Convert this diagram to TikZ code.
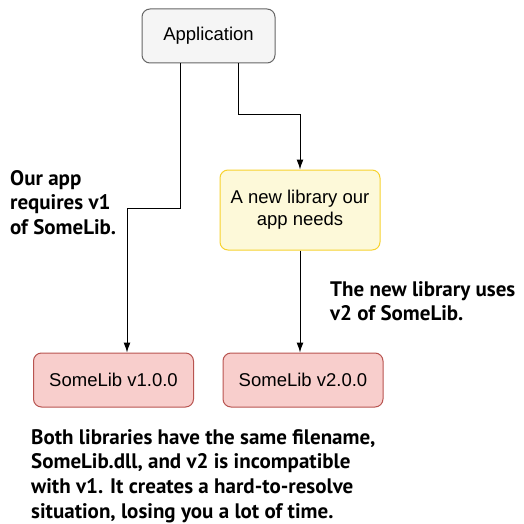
\documentclass[tikz,border=0pt]{standalone}
\usepackage{fontspec}
\setmainfont{Liberation Sans}
\newfontfamily\notefont{PT Sans}
\usetikzlibrary{arrows.meta}
\definecolor{AppFill}{HTML}{F5F5F5}
\definecolor{AppLine}{HTML}{666666}
\definecolor{NewFill}{HTML}{FDF9D9}
\definecolor{NewLine}{HTML}{F7D22E}
\definecolor{LibFill}{HTML}{F8CECC}
\definecolor{LibLine}{HTML}{B85450}
\tikzset{
  box/.style={draw,rounded corners=8pt,line width=1pt,minimum height=54pt,inner sep=0pt,align=center,font=\fontsize{18.5}{22}\selectfont},
  appbox/.style={box,fill=AppFill,draw=AppLine,minimum width=133pt},
  newbox/.style={box,fill=NewFill,draw=NewLine,minimum width=160pt,minimum height=80pt},
  libbox/.style={box,fill=LibFill,draw=LibLine,minimum width=160pt},
  link/.style={line width=1pt,-{Latex[length=10pt,width=7pt]}},
  note/.style={anchor=north west,inner sep=0pt,align=left,font=\notefont\bfseries\fontsize{21}{24.7}\selectfont},
}

\begin{document}
\begin{tikzpicture}[x=1pt,y=-1pt]
  \useasboundingbox (0,0) rectangle (524,524);
  % boxes
  \node[appbox] (app) at (208.5,36) {Application};
  \node[newbox] (newlib) at (300,210) {A new library our\\app needs};
  \node[libbox] (libone) at (113.5,380) {SomeLib v1.0.0};
  \node[libbox] (libtwo) at (303,380) {SomeLib v2.0.0};
  % connectors
  \draw[link] ([xshift=-28.5pt]app.south) -- ++(0,145) -| ([xshift=13.5pt]libone.north);
  \draw[link] ([xshift=29.5pt]app.south) -- ++(0,51) -| (newlib.north);
  \draw[link] (newlib.south) -- (newlib.south |- libtwo.north);
  % notes
  \node[note] (noteapp) at (10,170) {Our app\\requires v1\\of SomeLib.};
  \node[note] (notenew) at (330,281) {The new library uses\\v2 of SomeLib.};
  \node[note] (noteboth) at (31,429) {Both libraries have the same filename,\\SomeLib.dll, and v2 is incompatible\\with v1. It creates a hard-to-resolve\\situation, losing you a lot of time.};
\end{tikzpicture}
\end{document}
